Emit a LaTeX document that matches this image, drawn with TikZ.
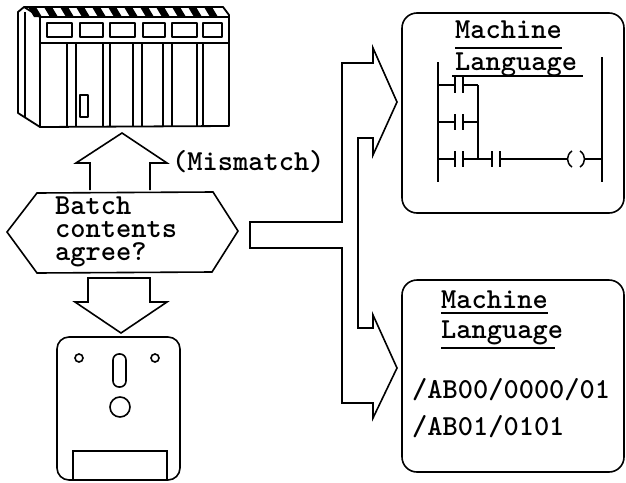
\documentclass[tikz,border=0pt]{standalone}
\usepackage{tikz}
\usetikzlibrary{positioning}
\tikzstyle{rack} = [line width=1.8pt, line join=round]
\tikzstyle{outline} = [line width=1.6pt, line join=miter]
\tikzstyle{rung} = [line width=1.5pt]
\tikzstyle{uline} = [line width=1.4pt]
\tikzstyle{mono} = [font=\ttfamily\bfseries\fontsize{29}{23}\selectfont, inner sep=0pt, anchor=base west, align=left]

\begin{document}
\begin{tikzpicture}[x=1pt, y=-1pt]
\useasboundingbox (0,0) rectangle (626,482);

% PLC rack
\foreach \x in {28,44,...,212}
  \fill (\x,7) -- (\x+8,7) -- (\x+14,17) -- (\x+6,17) -- cycle;
\draw[rack] (18,12) -- (24,7) -- (223,7) -- (229,15) -- (229,126) -- (40,127) -- (18,113) -- cycle;
\draw[rack] (24,7) -- (40,17) -- (229,17);
\draw[rack] (40,17) -- (40,127);
\draw[rack] (25,12) -- (25,117);
\draw[rack] (40,43) -- (229,43);
\foreach \a/\b in {47/72, 80/103, 110/135, 143/165, 172/197, 203/222}
  \draw[rack] (\a,23) rectangle (\b,37);
\foreach \x in {67,76,103,110,133,142,163,172,197,203}
  \draw[rack] (\x,43) -- (\x,127);
\draw[rack] (80,95) rectangle (88,117);

% Floppy disk
\draw[outline, rounded corners=12pt] (57,337) rectangle (180,480);
\draw[outline] (73,480) -- (73,451) -- (167,451) -- (167,480);
\draw[outline] (79,358) circle (4);
\draw[outline] (155,358) circle (4);
\draw[outline, rounded corners=6pt] (113,354) rectangle (126,387);
\draw[outline] (120,407) circle (10);

% Decision hexagon
\draw[outline] (7,232) -- (37,193) -- (213,192) -- (238,231) -- (212,272) -- (37,273) -- cycle;
\node[mono] (ask) at (55,260) {Batch\\contents\\agree?};

% Block arrows up and down
\draw[outline] (90,190) -- (90,163) -- (76,163) -- (122,133) -- (167,163) -- (150,163) -- (150,190);
\draw[outline] (88,278) -- (150,278) -- (150,302) -- (167,302) -- (121,333) -- (75,302) -- (88,302) -- cycle;
\node[mono] (mis) at (172,170) {(Mismatch)};

% Branching arrow to both outputs
\draw[outline] (250,222) -- (342,222) -- (342,63) -- (373,63) -- (373,48) -- (397,102)
  -- (373,155) -- (373,138) -- (358,138) -- (358,328) -- (373,328) -- (373,315)
  -- (397,368) -- (373,418) -- (373,403) -- (342,403) -- (342,248) -- (250,248) -- cycle;

% Ladder program box
\draw[outline, rounded corners=15pt] (402,13) rectangle (624,213);
\node[mono] (mach1) at (455,38) {Machine};
\node[mono] (lang1) at (455,70) {Language};
\draw[uline] ([yshift=-10pt]mach1.base west) -- ([yshift=-10pt]mach1.base east);
\draw[uline] ([xshift=-3pt,yshift=-6pt]lang1.base west) -- ([xshift=6pt,yshift=-6pt]lang1.base east);
\draw[rung] (438,62) -- (438,182);
\draw[rung] (602,57) -- (602,182);
\foreach \y in {85,122,159} {
  \draw[rung] (438,\y) -- (455,\y) (463,\y) -- (478,\y);
  \draw[rung] (455,\y-8) -- (455,\y+8) (463,\y-8) -- (463,\y+8);
}
\draw[rung] (478,85) -- (478,159) -- (492,159);
\draw[rung] (492,151) -- (492,167) (500,151) -- (500,167);
\draw[rung] (500,159) -- (568,159);
\draw[rung] (572,151) .. controls (566,155) and (566,163) .. (572,167);
\draw[rung] (580,151) .. controls (586,155) and (586,163) .. (580,167);
\draw[rung] (585,159) -- (602,159);

% Machine code box
\draw[outline, rounded corners=15pt] (402,280) rectangle (624,472);
\node[mono] (mach2) at (441,308) {Machine};
\node[mono] (lang2) at (441,338) {Language};
\draw[uline] ([yshift=-5pt]mach2.base west) -- ([yshift=-5pt]mach2.base east);
\draw[uline] ([yshift=-10pt]lang2.base west) -- ([xshift=-8pt,yshift=-10pt]lang2.base east);
\node[mono] (code1) at (412,398) {/AB00/0000/01};
\node[mono] (code2) at (412,435) {/AB01/0101};
\end{tikzpicture}
\end{document}
